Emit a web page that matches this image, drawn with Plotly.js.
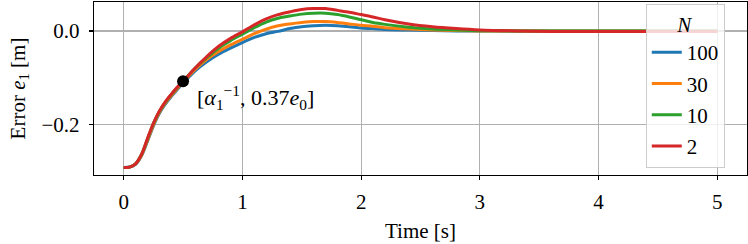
<!DOCTYPE html>
<html>
<head>
<meta charset="utf-8">
<script src="https://cdn.plot.ly/plotly-3.0.1.min.js"></script>
<style>html,body{margin:0;padding:0;background:#fff;}#chart{width:748px;height:244px;}</style>
</head>
<body>
<div id="chart"></div>
<script>
// Time samples [s]
const time = [0, 0.05, 0.1, 0.15, 0.2, 0.25, 0.3, 0.35, 0.4, 0.45, 0.5, 0.6, 0.7, 0.8, 0.9, 1.0, 1.1, 1.2, 1.3, 1.4, 1.5, 1.6, 1.7, 1.8, 1.9, 2.0, 2.1, 2.2, 2.4, 2.6, 2.8, 3.0, 3.3, 3.6, 4.0, 4.5, 5.0];

// Error e1 [m] for each N
const errN100 = [-0.293, -0.292, -0.286, -0.268, -0.237, -0.204, -0.177, -0.157, -0.141, -0.126, -0.112, -0.086, -0.066, -0.050, -0.037, -0.025, -0.014, -0.006, -0.001, 0.005, 0.009, 0.011, 0.012, 0.011, 0.009, 0.006, 0.005, 0.003, 0.002, 0.001, 0.000, 0.000, 0.000, 0.000, 0.000, 0.000, 0.000];
const errN30  = [-0.293, -0.292, -0.285, -0.267, -0.235, -0.202, -0.175, -0.155, -0.139, -0.124, -0.110, -0.083, -0.061, -0.044, -0.030, -0.018, -0.006, 0.004, 0.011, 0.015, 0.018, 0.020, 0.020, 0.018, 0.015, 0.012, 0.010, 0.007, 0.004, 0.002, 0.001, 0.000, 0.000, 0.000, 0.000, 0.000, 0.000];
const errN10  = [-0.293, -0.292, -0.285, -0.265, -0.232, -0.199, -0.173, -0.153, -0.137, -0.122, -0.108, -0.080, -0.057, -0.037, -0.021, -0.007, 0.007, 0.019, 0.027, 0.032, 0.036, 0.038, 0.038, 0.035, 0.030, 0.024, 0.018, 0.014, 0.008, 0.004, 0.002, 0.0005, 0.000, 0.000, 0.000, 0.000, 0.000];
const errN2   = [-0.293, -0.292, -0.285, -0.265, -0.231, -0.198, -0.172, -0.152, -0.136, -0.121, -0.108, -0.080, -0.055, -0.033, -0.016, -0.002, 0.013, 0.026, 0.035, 0.041, 0.046, 0.048, 0.048, 0.044, 0.040, 0.035, 0.030, 0.024, 0.015, 0.009, 0.005, 0.002, 0.000, -0.001, -0.0015, -0.001, -0.001];

const seriesNames = ['100', '30', '10', '2'];
const seriesData = [errN100, errN30, errN10, errN2];
const seriesColors = ['#1f77b4', '#ff7f0e', '#2ca02c', '#d62728'];

// Marked point [alpha1^-1, 0.37 e0]
const markX = [0.5];
const markY = [-0.108];

const xTicks = [0, 1, 2, 3, 4, 5];
const yTicks = [-0.2, 0.0];

const FONT = 'Liberation Serif, DejaVu Serif, serif';
const FS = 21;

const traces = seriesData.map((d, i) => ({
  x: time, y: d, type: 'scatter', mode: 'lines',
  name: seriesNames[i], legendgroup: 'g' + i,
  line: {color: seriesColors[i], width: 3, shape: 'spline', smoothing: 0.8}
}));
traces.push({
  x: markX, y: markY, type: 'scatter', mode: 'markers', showlegend: false,
  marker: {color: '#000', size: 12}
});

const layout = {
  width: 748, height: 244,
  margin: {l: 94, r: 1, t: 2, b: 69},
  paper_bgcolor: '#fff', plot_bgcolor: '#fff',
  font: {family: FONT, size: FS, color: '#000'},
  showlegend: true,
  xaxis: {
    range: [-0.25, 5.25], tickvals: xTicks, ticktext: xTicks.map(String),
    showgrid: true, gridcolor: '#b0b0b0', gridwidth: 1.2,
    zeroline: false, showline: true, linecolor: '#000', linewidth: 1.3, mirror: true,
    ticks: 'outside', ticklen: 4, tickwidth: 1.2, tickcolor: '#000',
    ticklabelstandoff: 3,
    title: {text: 'Time [s]', font: {family: FONT, size: FS}, standoff: 10}
  },
  yaxis: {
    range: [-0.309, 0.062], tickvals: yTicks, tickformat: '.1f',
    showgrid: true, gridcolor: '#b0b0b0', gridwidth: 1.2,
    zeroline: false, showline: true, linecolor: '#000', linewidth: 1.3, mirror: true,
    ticks: 'outside', ticklen: 4, tickwidth: 1.2, tickcolor: '#000',
    ticklabelstandoff: 5,
    title: {text: 'Error <i>e</i><sub>1</sub> [m]', font: {family: FONT, size: FS}, standoff: 10}
  },
  legend: {
    x: 0.845, y: 0.99, xanchor: 'left', yanchor: 'top',
    bgcolor: 'rgba(255,255,255,0.8)', bordercolor: '#cccccc', borderwidth: 1,
    traceorder: 'grouped', tracegroupgap: 1,
    entrywidth: 50, entrywidthmode: 'pixels',
    font: {family: FONT, size: FS},
    title: {text: '<i>N</i>', side: 'top center', font: {family: FONT, size: 21}}
  },
  annotations: [{
    x: markX[0], y: markY[0], xref: 'x', yref: 'y',
    text: '[<i>α</i><sub>1</sub><sup>−1</sup>, 0.37<i>e</i><sub>0</sub>]',
    showarrow: false, xanchor: 'left', yanchor: 'middle',
    xshift: 12, yshift: -16,
    font: {family: FONT, size: 22, color: '#000'}
  }]
};

Plotly.newPlot('chart', traces, layout, {displayModeBar: false, staticPlot: true});
</script>
</body>
</html>
